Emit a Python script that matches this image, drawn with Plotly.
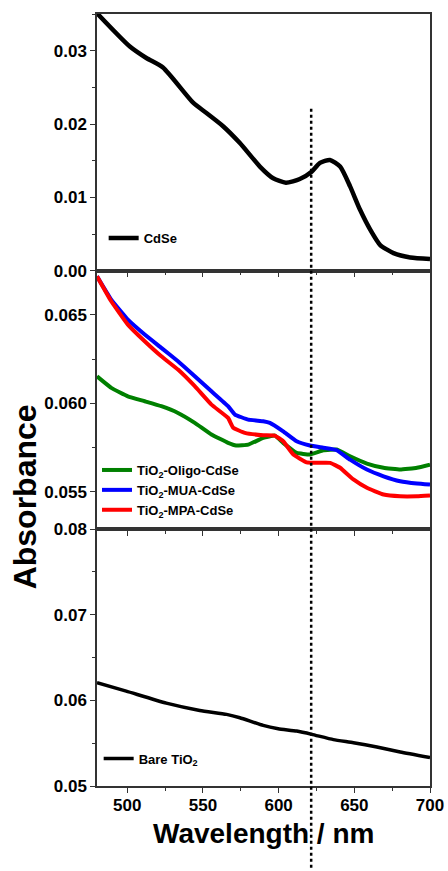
import plotly.graph_objects as go

# ---------------- data ----------------
cdse_nm = [480, 501.5, 512.6, 523.6, 543.5, 552.3, 563.3, 574.4, 587.6, 596.4, 604.8, 614, 621.8,
           627.3, 633.9, 640.6, 647.2, 653.8, 660.5, 667.1, 675.9, 687, 700]
cdse_abs = [0.0351, 0.0306, 0.0290, 0.0277, 0.0229, 0.0215, 0.0197, 0.0174, 0.0142, 0.0126, 0.0120,
            0.0125, 0.0135, 0.0147, 0.0151, 0.0142, 0.0115, 0.0083, 0.0056, 0.0035, 0.0024, 0.0018, 0.0016]

mua_nm = [480, 489.4, 500.4, 511.5, 522.5, 533.5, 544.6, 555.6, 566.6, 571.1, 579.9, 589.8, 594.2,
          603, 611.9, 620.7, 629.5, 638.4, 647.2, 658.3, 669.3, 680.3, 691.4, 700]
mua_abs = [0.06718, 0.06586, 0.06473, 0.06389, 0.06314, 0.06238, 0.06153, 0.06068, 0.05984, 0.05937,
           0.05908, 0.05899, 0.05890, 0.05842, 0.05786, 0.05762, 0.05749, 0.05735, 0.05682, 0.05626,
           0.05588, 0.05560, 0.05547, 0.05541]

mpa_nm = [480, 489.4, 500.4, 511.5, 522.5, 533.5, 544.6, 555.6, 566.6, 570, 577.7, 589.8, 597.5,
          603, 609.7, 618.5, 625.2, 634, 640.6, 649.4, 658.3, 669.3, 680.3, 691.4, 700]
mpa_abs = [0.06718, 0.06577, 0.06445, 0.06351, 0.06266, 0.06191, 0.06097, 0.05993, 0.05918, 0.05862,
           0.05833, 0.05820, 0.05818, 0.05786, 0.05711, 0.05667, 0.05664, 0.05664, 0.05636, 0.05570,
           0.05523, 0.05485, 0.05475, 0.05475, 0.05479]

oligo_nm = [480, 489.4, 500.4, 511.5, 522.5, 533.5, 544.6, 555.6, 566.6, 571.9, 579.9, 589.8, 597.5,
            603, 611.9, 620.7, 629.5, 638.4, 647.2, 658.3, 669.3, 680.3, 691.4, 700]
oligo_abs = [0.06153, 0.06088, 0.06040, 0.06012, 0.05984, 0.05946, 0.05890, 0.05824, 0.05777, 0.05762,
             0.05767, 0.05805, 0.05818, 0.05777, 0.05720, 0.05711, 0.05735, 0.05739, 0.05701, 0.05660,
             0.05636, 0.05626, 0.05636, 0.05654]

bare_nm = [480, 499.3, 525.8, 547.9, 565.6, 574.4, 589.8, 599.7, 611.9, 621.9, 636.2, 649.4, 664.9,
           680.3, 700]
bare_abs = [0.06205, 0.06107, 0.05967, 0.05882, 0.05836, 0.05797, 0.05707, 0.05669, 0.05641, 0.05603,
            0.05541, 0.05506, 0.05455, 0.05396, 0.05331]

marker_nm = 621.5

FONT = "Liberation Sans, Arial, sans-serif"
AX = "#333333"

fig = go.Figure()

fig.add_trace(go.Scatter(x=cdse_nm, y=cdse_abs, mode="lines", name="CdSe",
                         line=dict(color="black", width=4.5, shape="spline", smoothing=0.6),
                         xaxis="x", yaxis="y", legend="legend"))
fig.add_trace(go.Scatter(x=oligo_nm, y=oligo_abs, mode="lines", name="TiO<sub>2</sub>-Oligo-CdSe",
                         line=dict(color="#008000", width=4, shape="spline", smoothing=0.3),
                         xaxis="x2", yaxis="y2", legend="legend2"))
fig.add_trace(go.Scatter(x=mua_nm, y=mua_abs, mode="lines", name="TiO<sub>2</sub>-MUA-CdSe",
                         line=dict(color="#0000ff", width=4, shape="spline", smoothing=0.3),
                         xaxis="x2", yaxis="y2", legend="legend2"))
fig.add_trace(go.Scatter(x=mpa_nm, y=mpa_abs, mode="lines", name="TiO<sub>2</sub>-MPA-CdSe",
                         line=dict(color="#ff0000", width=4, shape="spline", smoothing=0.3),
                         xaxis="x2", yaxis="y2", legend="legend2"))
fig.add_trace(go.Scatter(x=bare_nm, y=bare_abs, mode="lines", name="Bare TiO<sub>2</sub>",
                         line=dict(color="black", width=3.5, shape="spline", smoothing=0.5),
                         xaxis="x3", yaxis="y3", legend="legend3"))

tickfont = dict(family=FONT, size=17, color="black", weight="bold")

def xax(anchor, labels):
    return dict(range=[480, 700], domain=[0, 1], anchor=anchor, showline=True, linecolor=AX,
                linewidth=1.5, mirror=True, ticks="outside", ticklen=5, tickwidth=1, tickcolor=AX,
                tick0=500, dtick=50, showticklabels=labels, tickfont=tickfont, showgrid=False,
                zeroline=False, automargin=False, ticklabelstandoff=-2,
                minor=dict(ticks="outside", ticklen=3, dtick=25, tickcolor=AX))

def yax(anchor, rng, domain, dtick, mdtick, fmt):
    return dict(range=rng, domain=domain, anchor=anchor, showline=True, linecolor=AX, linewidth=1.5,
                mirror=True, ticks="outside", ticklen=5, tickwidth=1, tickcolor=AX, dtick=dtick,
                tick0=0, tickformat=fmt, tickfont=tickfont, showgrid=False, zeroline=False,
                automargin=False,
                minor=dict(ticks="outside", ticklen=3, dtick=mdtick, tickcolor=AX))

legfont = dict(family=FONT, size=13, color="black", weight="bold")

fig.update_layout(
    width=448, height=871,
    margin=dict(l=97, r=18, t=14, b=85, autoexpand=False),
    paper_bgcolor="white", plot_bgcolor="white",
    xaxis=xax("y", False),
    xaxis2=xax("y2", False),
    xaxis3=xax("y3", True),
    yaxis=yax("x", [0, 0.035], [0.6675, 1.0], 0.01, 0.005, ".2f"),
    yaxis2=yax("x2", [0.0529, 0.0675], [0.3329, 0.6675], 0.005, 0.0025, ".3f"),
    yaxis3=yax("x3", [0.05, 0.08], [0.0, 0.3329], 0.01, 0.005, ".2f"),
    legend=dict(x=0.02, y=0.7098, xanchor="left", yanchor="middle", bgcolor="rgba(0,0,0,0)",
                font=legfont),
    legend2=dict(x=0.0, y=0.3834, xanchor="left", yanchor="middle", bgcolor="rgba(0,0,0,0)",
                 font=legfont),
    legend3=dict(x=0.005, y=0.0354, xanchor="left", yanchor="middle", bgcolor="rgba(0,0,0,0)",
                 font=legfont),
    showlegend=True,
)

fig.add_shape(type="line", xref="x3", yref="paper", x0=marker_nm, x1=marker_nm, y0=-0.106, y1=0.878,
              line=dict(color="black", width=2.5, dash="dot"))

fig.add_annotation(text="Absorbance", xref="paper", yref="paper", x=-0.216, y=0.374,
                   textangle=-90, showarrow=False, xanchor="center", yanchor="middle",
                   font=dict(family=FONT, size=32, color="black", weight="bold"))
fig.add_annotation(text="Wavelength / nm", xref="paper", yref="paper", x=0.5, y=-0.061,
                   showarrow=False, xanchor="center", yanchor="middle",
                   font=dict(family=FONT, size=28, color="black", weight="bold"))

fig.write_html("out.html")
